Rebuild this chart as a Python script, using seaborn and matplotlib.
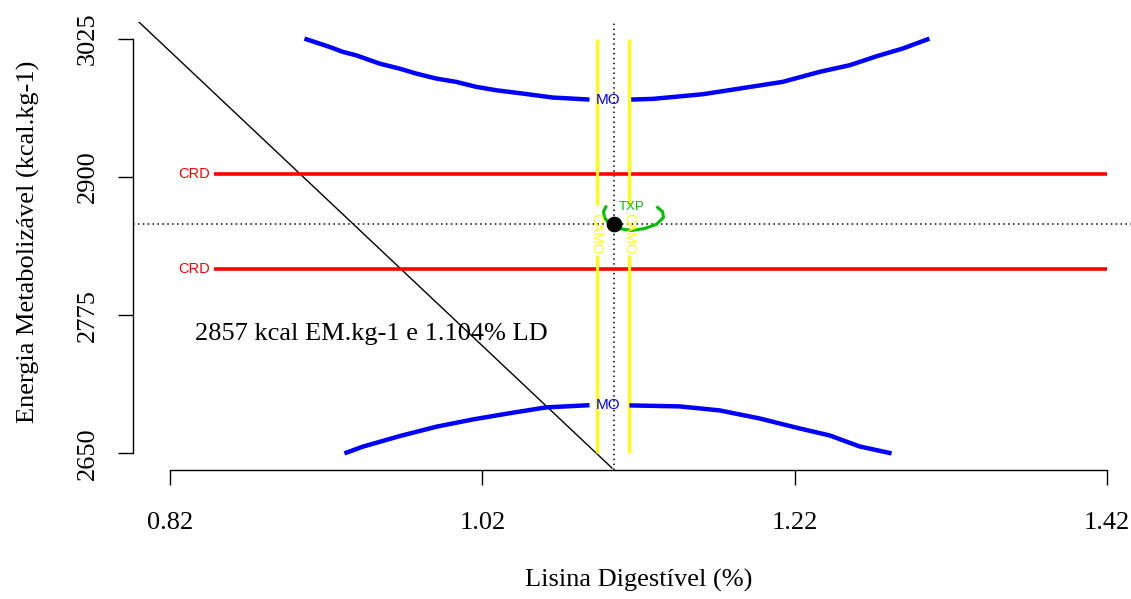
import numpy as np
import pandas as pd
import matplotlib
matplotlib.use("Agg")
import matplotlib.pyplot as plt
import seaborn as sns

# ---------------- data ----------------
x_ticks = [0.82, 1.02, 1.22, 1.42]
y_ticks = [2650, 2775, 2900, 3025]
x_label = "Lisina Digestível (%)"
y_label = "Energia Metabolizável (kcal.kg-1)"
note = "2857 kcal EM.kg-1 e 1.104% LD"

opt_x = 1.104      # optimum lysine
opt_y = 2857       # optimum energy

# MO contour (upper branch)
mo_top_left_x = [0.9059, 0.9219, 0.9305, 0.9390, 0.9540, 0.9668, 0.9775, 0.9903,
                 1.0031, 1.0159, 1.0288, 1.0458, 1.0651, 1.0886]
mo_top_left_y = [3025.0, 3017.5, 3013.0, 3009.9, 3002.4, 2997.9, 2993.4, 2988.9,
                 2985.9, 2981.4, 2978.3, 2975.3, 2971.7, 2969.9]
mo_top_right_x = [1.1153, 1.1292, 1.1612, 1.1847, 1.2125, 1.2360, 1.2553, 1.2734,
                  1.2894, 1.3065]
mo_top_right_y = [2969.9, 2970.5, 2974.7, 2979.8, 2985.9, 2994.9, 3000.9, 3009.4,
                  3016.0, 3025.0]
# MO contour (lower branch)
mo_bot_left_x = [0.9315, 0.9433, 0.9668, 0.9903, 1.0138, 1.0394, 1.0608, 1.0886]
mo_bot_left_y = [2650.0, 2656.1, 2665.6, 2674.1, 2680.7, 2686.8, 2691.6, 2693.6]
mo_bot_right_x = [1.1142, 1.1463, 1.1719, 1.1976, 1.2232, 1.2424, 1.2617, 1.2822]
mo_bot_right_y = [2693.4, 2692.5, 2688.9, 2681.6, 2672.6, 2666.3, 2656.3, 2650.0]

# CRD contours (horizontal)
crd_levels = [2903.0, 2816.3]
crd_x = [0.8482, 1.42]

# CAMO contours (vertical), with label gap
camo_levels = [1.0931, 1.1142]
camo_y_top = [3025.0, 2874.5]
camo_y_bot = [2829.0, 2650.0]

# TXP contour (small closed curve, gap at top for label)
txp_x = [1.0995, 1.0976, 1.0982, 1.1014, 1.1078, 1.1155, 1.1238, 1.1315,
         1.1360, 1.1354, 1.1315]
txp_y = [2874.1, 2868.7, 2863.3, 2857.1, 2853.3, 2851.5, 2853.3, 2857.1,
         2863.3, 2868.7, 2873.2]

# Budget / cost line (two points on it)
diag_x = [0.7988, 1.1033]
diag_y = [3041.3, 2636.4]

# ---------------- figure ----------------
sns.set_theme(style="white")
plt.rcParams["font.family"] = ["Liberation Serif", "DejaVu Serif"]
plt.rcParams["text.color"] = "black"
plt.rcParams["axes.labelcolor"] = "black"

W, H = 1131, 599
fig = plt.figure(figsize=(W / 100, H / 100), dpi=100)
ax = fig.add_axes([133 / W, 1 - 470 / H, (1144 - 133) / W, (470 - 22) / H])
ax.set_xlim(0.796, 1.444)
ax.set_ylim(2635, 3040)

blue, red, yel, green = "#0000FF", "#FF0000", "#FFFF00", "#00C000"
sans = ["Liberation Sans", "DejaVu Sans"]

def seg(x, y, color, lw):
    df = pd.DataFrame({"x": x, "y": y})
    sns.lineplot(data=df, x="x", y="y", sort=False, estimator=None, color=color,
                 lw=lw, ax=ax, solid_capstyle="butt")

# diagonal line
seg(diag_x, diag_y, "black", 1.0)

# reference dotted lines
ax.axvline(opt_x, color="black", lw=1.1, ls=(0, (1, 2.2)))
ax.axhline(opt_y, color="black", lw=1.1, ls=(0, (1, 2.2)))

# CRD
for lv in crd_levels:
    seg(crd_x, [lv, lv], red, 2.6)
    ax.text(0.8354, lv, "CRD", color=red, fontsize=10.5, family=sans,
            ha="center", va="center")

# CAMO
for lv in camo_levels:
    seg([lv, lv], camo_y_top, yel, 2.2)
    seg([lv, lv], camo_y_bot, yel, 2.2)
    ax.text(lv, (camo_y_top[1] + camo_y_bot[0]) / 2 - 3, "CAMO", color=yel,
            fontsize=10, family=sans, rotation=-90, ha="center", va="center")

# MO
seg(mo_top_left_x, mo_top_left_y, blue, 3.2)
seg(mo_top_right_x, mo_top_right_y, blue, 3.2)
seg(mo_bot_left_x, mo_bot_left_y, blue, 3.2)
seg(mo_bot_right_x, mo_bot_right_y, blue, 3.2)
ax.text(1.1005, mo_top_left_y[-1], "MO", color=blue, fontsize=11, family=sans,
        ha="center", va="center")
ax.text(1.1005, mo_bot_left_y[-1], "MO", color=blue, fontsize=11, family=sans,
        ha="center", va="center")

# TXP
seg(txp_x, txp_y, green, 2.2)
ax.text(1.1155, 2872.5, "TXP", color=green, fontsize=9.5, family=sans,
        ha="center", va="center")

# optimum point
sns.scatterplot(x=[opt_x], y=[opt_y], color="black", s=110, ax=ax, zorder=5,
                edgecolor="black")

# annotation
ax.text(0.836, 2757.5, note, fontsize=19, ha="left", va="center", color="black")

# axes styling (R-like detached axes)
for s in ["top", "right"]:
    ax.spines[s].set_visible(False)
ax.spines["left"].set_bounds(y_ticks[0], y_ticks[-1])
ax.spines["bottom"].set_bounds(x_ticks[0], x_ticks[-1])
for s in ["left", "bottom"]:
    ax.spines[s].set_linewidth(1.0)
    ax.spines[s].set_color("black")

ax.set_xticks(x_ticks)
ax.set_xticklabels([f"{v:.2f}" for v in x_ticks])
ax.set_yticks(y_ticks)
ax.set_yticklabels([str(v) for v in y_ticks])
ax.tick_params(axis="both", direction="out", length=10.5, width=1.0,
               colors="black", labelsize=19, bottom=True, left=True)
ax.tick_params(axis="x", pad=20)
ax.tick_params(axis="y", pad=14, labelrotation=90)
for lbl in ax.get_yticklabels():
    lbl.set_va("center")

ax.set_xlabel(x_label, fontsize=19, color="black")
ax.set_ylabel(y_label, fontsize=19, color="black")
ax.xaxis.set_label_coords(639 / W, 1 - 580 / H, transform=fig.transFigure)
ax.yaxis.set_label_coords(28 / W, 1 - 242 / H, transform=fig.transFigure)
ax.xaxis.label.set_va("center")
ax.yaxis.label.set_va("center")

ax.grid(False)
fig.savefig("out.png", dpi=100)
